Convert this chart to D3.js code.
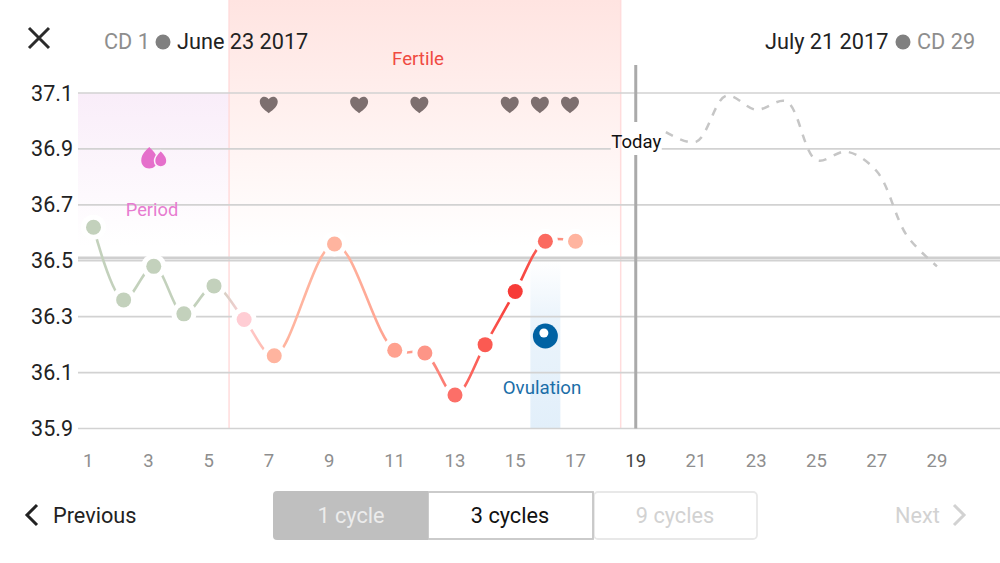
<!DOCTYPE html>
<html>
<head>
<meta charset="utf-8">
<script src="https://cdn.jsdelivr.net/npm/d3@7"></script>
<style>
html, body { margin: 0; padding: 0; background: #fff; overflow: hidden; }
text { font-family: Roboto, sans-serif; }
</style>
</head>
<body>
<div id="chart"></div>
<script>
const yTicks = [37.1, 36.9, 36.7, 36.5, 36.3, 36.1, 35.9];
const xTicks = [1, 3, 5, 7, 9, 11, 13, 15, 17, 19, 21, 23, 25, 27, 29];

const tempDays = [1, 2, 3, 4, 5, 6, 7, 9, 11, 12, 13, 14, 15, 16, 17];
const tempValues = [36.62, 36.36, 36.48, 36.31, 36.41, 36.29, 36.16, 36.56, 36.18, 36.17, 36.02, 36.20, 36.39, 36.57, 36.57];
const dotColors = ['#c3d1bc', '#c3d1bc', '#c3d1bc', '#c3d1bc', '#c3d1bc', '#ffcdd4', '#ffb49f', '#ffb49f', '#ffa18f', '#fd9587', '#fc6f68', '#fb5a52', '#f73c38', '#fb6a60', '#ffb49f'];

const forecastDays = [20, 21, 22, 23, 24, 25, 26, 27, 28, 29];
const forecastValues = [36.96, 36.925, 37.09, 37.04, 37.07, 36.86, 36.89, 36.82, 36.59, 36.48];

const heartDays = [7, 10, 12, 15, 16, 17];
const coverline = 36.51;
const todayDay = 19;
const periodDay = 3;
const ovulationDay = 16;
const fertileStart = 5.5;
const fertileEnd = 18.5;

const width = 1000;
const height = 563;

const x = d3.scaleLinear().domain([1, 29]).range([93.5, 937]);
const y = d3.scaleLinear().domain([37.1, 35.9]).range([93, 428.5]);

const svg = d3.select('#chart')
	.append('svg')
	.attr('width', width)
	.attr('height', height)
	.style('display', 'block');

const defs = svg.append('defs');

function vGradient(id, y1, y2, stops) {
	const g = defs.append('linearGradient')
		.attr('id', id)
		.attr('gradientUnits', 'userSpaceOnUse')
		.attr('x1', 0).attr('x2', 0)
		.attr('y1', y1).attr('y2', y2);
	stops.forEach(s => g.append('stop').attr('offset', s[0]).attr('stop-color', s[1]).attr('stop-opacity', s[2]));
}
vGradient('fertileFill', 0, y(36.55), [[0, '#ffe4e1', 1], [1, '#ffe4e1', 0]]);
vGradient('periodFill', y(37.1), y(36.55), [[0, '#f9edf9', 1], [1, '#f9edf9', 0]]);
vGradient('ovuFill', y(36.5), y(35.9), [[0, '#e2effa', 0], [0.35, '#e2effa', 0.7], [1, '#e2effa', 1]]);

const tempGrad = defs.append('linearGradient')
	.attr('id', 'tempStroke')
	.attr('gradientUnits', 'userSpaceOnUse')
	.attr('x1', x(1)).attr('x2', x(17))
	.attr('y1', 0).attr('y2', 0);
tempDays.forEach((d, i) => {
	tempGrad.append('stop')
		.attr('offset', (d - 1) / 16)
		.attr('stop-color', dotColors[i]);
});

// period + fertile bands
svg.append('rect')
	.attr('x', 78).attr('y', y(37.1))
	.attr('width', x(fertileStart) - 78)
	.attr('height', y(36.55) - y(37.1))
	.attr('fill', 'url(#periodFill)');
svg.append('rect')
	.attr('x', x(fertileStart)).attr('y', 0)
	.attr('width', x(fertileEnd) - x(fertileStart))
	.attr('height', y(36.55))
	.attr('fill', 'url(#fertileFill)');
svg.selectAll('.fertile-edge')
	.data([fertileStart, fertileEnd])
	.enter()
	.append('line')
	.attr('class', 'fertile-edge')
	.attr('x1', d => x(d)).attr('x2', d => x(d))
	.attr('y1', 0).attr('y2', y(35.9))
	.attr('stroke', '#ffdcdc')
	.attr('stroke-width', 1.5);

// ovulation band
svg.append('rect')
	.attr('x', x(ovulationDay) - 15)
	.attr('y', y(36.5))
	.attr('width', 30)
	.attr('height', y(35.9) - y(36.5))
	.attr('fill', 'url(#ovuFill)');

// grid, the 36.9 line leaves a gap for the Today label
const gridSegments = yTicks.flatMap(d => d === 36.9
	? [{ v: d, from: 78, to: x(todayDay) - 25 }, { v: d, from: x(todayDay) + 26, to: width }]
	: [{ v: d, from: 78, to: width }]);
svg.selectAll('.grid')
	.data(gridSegments)
	.enter()
	.append('line')
	.attr('class', 'grid')
	.attr('x1', d => d.from).attr('x2', d => d.to)
	.attr('y1', d => y(d.v)).attr('y2', d => y(d.v))
	.attr('stroke', '#d2d2d2')
	.attr('stroke-width', 1.6);
svg.append('line')
	.attr('x1', 78).attr('x2', width)
	.attr('y1', y(coverline)).attr('y2', y(coverline))
	.attr('stroke', '#cfcfcf')
	.attr('stroke-width', 3);

// axis labels
svg.selectAll('.ylab')
	.data(yTicks)
	.enter()
	.append('text')
	.attr('class', 'ylab')
	.attr('x', 73)
	.attr('y', d => y(d) + 7.5)
	.attr('text-anchor', 'end')
	.attr('font-size', 21.5)
	.attr('fill', '#222')
	.text(d => d.toFixed(1));
svg.selectAll('.xlab')
	.data(xTicks)
	.enter()
	.append('text')
	.attr('class', 'xlab')
	.attr('x', d => x(d) - 10.5)
	.attr('y', 467)
	.attr('font-size', 18.5)
	.attr('fill', d => d === todayDay ? '#444' : '#8e8e8e')
	.text(d => d);

// today marker
svg.selectAll('.today')
	.data([[65, 122], [155, y(35.9)]])
	.enter()
	.append('line')
	.attr('class', 'today')
	.attr('x1', x(todayDay)).attr('x2', x(todayDay))
	.attr('y1', d => d[0]).attr('y2', d => d[1])
	.attr('stroke', '#aaa')
	.attr('stroke-width', 3);
svg.append('text')
	.attr('x', x(todayDay) + 0.5).attr('y', 148)
	.attr('text-anchor', 'middle')
	.attr('font-size', 18.5)
	.attr('fill', '#111')
	.text('Today');

// forecast
const line = d3.line().curve(d3.curveCatmullRom);
svg.append('path')
	.attr('d', line(forecastDays.map((d, i) => [x(d), y(forecastValues[i])])))
	.attr('fill', 'none')
	.attr('stroke', '#c6c6c6')
	.attr('stroke-width', 2.5)
	.attr('stroke-dasharray', '8 8');

// temperature line, white halos cut the gaps around the dots
svg.append('path')
	.attr('d', line(tempDays.map((d, i) => [x(d), y(tempValues[i])])))
	.attr('fill', 'none')
	.attr('stroke', 'url(#tempStroke)')
	.attr('stroke-width', 2.6);
svg.selectAll('.halo')
	.data(tempDays)
	.enter()
	.append('circle')
	.attr('class', 'halo')
	.attr('cx', d => x(d))
	.attr('cy', (d, i) => y(tempValues[i]))
	.attr('r', 12.5)
	.attr('fill', '#fff');
svg.selectAll('.dot')
	.data(tempDays)
	.enter()
	.append('circle')
	.attr('class', 'dot')
	.attr('cx', d => x(d))
	.attr('cy', (d, i) => y(tempValues[i]))
	.attr('r', 7.5)
	.attr('fill', (d, i) => dotColors[i]);

// hearts
const heart = 'M0 8.5 C-1.5 7 -9 2.5 -9 -3 C-9 -6 -6.8 -8 -4.4 -8 C-2.6 -8 -1 -7 0 -5.4 C1 -7 2.6 -8 4.4 -8 C6.8 -8 9 -6 9 -3 C9 2.5 1.5 7 0 8.5 Z';
svg.selectAll('.heart')
	.data(heartDays)
	.enter()
	.append('path')
	.attr('class', 'heart')
	.attr('d', heart)
	.attr('transform', d => `translate(${x(d) - 5.5},${y(37.06) + 0.5})`)
	.attr('fill', '#7d6f6f');

// period drops
const dropBig = 'M0 -11.5 C3 -8.5 8 -4.5 8 2 C8 6.5 4.5 10 0 10 C-4.5 10 -8 6.5 -8 2 C-8 -4.5 -3 -8.5 0 -11.5 Z';
const dropSmall = 'M0 -8.5 C2.5 -6 6.2 -3 6.2 2 C6.2 5.5 3.4 8 0 8 C-3.4 8 -6.2 5.5 -6.2 2 C-6.2 -3 -2.5 -6 0 -8.5 Z';
svg.append('path')
	.attr('d', dropBig)
	.attr('transform', `translate(${x(periodDay) - 4.5},158.5)`)
	.attr('fill', '#e56fcb');
svg.append('path')
	.attr('d', dropSmall)
	.attr('transform', `translate(${x(periodDay) + 7},159)`)
	.attr('fill', '#e56fcb')
	.attr('stroke', '#fcf3fb')
	.attr('stroke-width', 1.5);
svg.append('text')
	.attr('x', 152).attr('y', 215.5)
	.attr('text-anchor', 'middle')
	.attr('font-size', 18.3)
	.attr('fill', '#e77bd0')
	.text('Period');

svg.append('text')
	.attr('x', 418).attr('y', 65)
	.attr('text-anchor', 'middle')
	.attr('font-size', 18.7)
	.attr('fill', '#f04a42')
	.text('Fertile');

// ovulation icon
svg.append('circle')
	.attr('cx', x(ovulationDay)).attr('cy', 336)
	.attr('r', 12.5)
	.attr('fill', '#0062a3');
svg.append('circle')
	.attr('cx', x(ovulationDay) - 1.5).attr('cy', 333)
	.attr('r', 4.5)
	.attr('fill', '#fff');
svg.append('text')
	.attr('x', 542).attr('y', 393.5)
	.attr('text-anchor', 'middle')
	.attr('font-size', 18.7)
	.attr('fill', '#1b6ea8')
	.text('Ovulation');

// header
svg.append('path')
	.attr('d', 'M29 28 L49 48 M49 28 L29 48')
	.attr('stroke', '#2b2b2b')
	.attr('stroke-width', 3)
	.attr('fill', 'none');
svg.append('text').attr('x', 104).attr('y', 48.5).attr('font-size', 21.7).attr('fill', '#8e8e8e').text('CD 1');
svg.append('circle').attr('cx', 163).attr('cy', 42).attr('r', 7.5).attr('fill', '#808080');
svg.append('text').attr('x', 177).attr('y', 48.5).attr('font-size', 21.7).attr('fill', '#222').text('June 23 2017');
svg.append('text').attr('x', 765).attr('y', 48.5).attr('font-size', 21.7).attr('fill', '#222').text('July 21 2017');
svg.append('circle').attr('cx', 903).attr('cy', 42).attr('r', 7.5).attr('fill', '#808080');
svg.append('text').attr('x', 917).attr('y', 48.5).attr('font-size', 21.7).attr('fill', '#8e8e8e').text('CD 29');

// footer controls
svg.append('path')
	.attr('d', 'M37 505 L27 515 L37 525')
	.attr('stroke', '#222').attr('stroke-width', 3).attr('fill', 'none');
svg.append('text').attr('x', 53).attr('y', 522.5).attr('font-size', 21.7).attr('fill', '#222').text('Previous');

svg.append('rect')
	.attr('x', 594).attr('y', 492).attr('width', 163).attr('height', 47).attr('rx', 4)
	.attr('fill', '#fff').attr('stroke', '#e8e8e8').attr('stroke-width', 1.8);
svg.append('rect')
	.attr('x', 428).attr('y', 492).attr('width', 165).attr('height', 47)
	.attr('fill', '#fff').attr('stroke', '#c6c6c6').attr('stroke-width', 1.8);
svg.append('path')
	.attr('d', 'M428 491 H277 Q273 491 273 495 V536 Q273 540 277 540 H428 Z')
	.attr('fill', '#bfbfbf');
svg.append('text').attr('x', 351).attr('y', 522.5).attr('text-anchor', 'middle').attr('font-size', 21.7).attr('fill', '#ececec').text('1 cycle');
svg.append('text').attr('x', 510).attr('y', 522.5).attr('text-anchor', 'middle').attr('font-size', 21.7).attr('fill', '#111').text('3 cycles');
svg.append('text').attr('x', 675).attr('y', 522.5).attr('text-anchor', 'middle').attr('font-size', 21.7).attr('fill', '#d2d2d2').text('9 cycles');
svg.append('text').attr('x', 895).attr('y', 522.5).attr('font-size', 21.7).attr('fill', '#d2d2d2').text('Next');
svg.append('path')
	.attr('d', 'M954 505 L964 515 L954 525')
	.attr('stroke', '#d2d2d2').attr('stroke-width', 3).attr('fill', 'none');
</script>
</body>
</html>
